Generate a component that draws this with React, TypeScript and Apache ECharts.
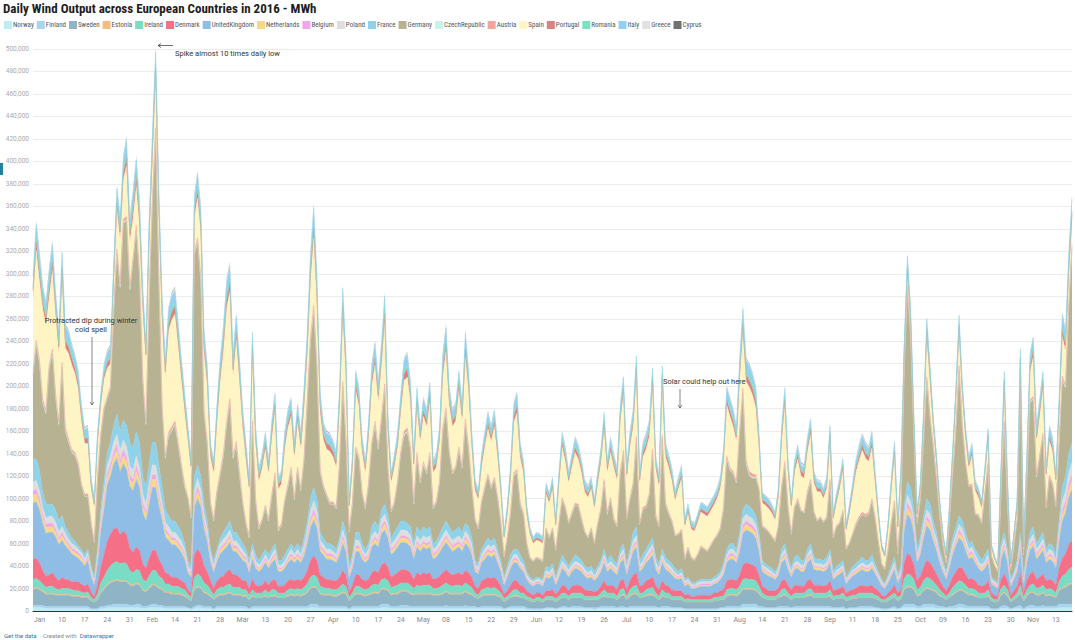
import React, { useEffect, useRef } from "react";
import * as echarts from "echarts";

// Values are in thousands of MWh, one per day starting 2016-01-01
const startDate = "2016-01-01";

const countries = ["Norway","Finland","Sweden","Estonia","Ireland","Denmark","UnitedKingdom","Netherlands","Belgium","Poland","France","Germany","CzechRepublic","Austria","Spain","Portugal","Romania","Italy","Greece","Cyprus"];

const colors = ["#bdeef4","#a8d6f2","#8fb4c6","#f6bd7c","#79dcc4","#f56f86","#8fbde6","#f9d886","#f2a6ea","#dedede","#8fd3ea","#b7b292","#cbf2e8","#f4a39d","#fff4c4","#dc8080","#7be1c1","#92d1f0","#e1e1e1","#717171"];

const norway = [3,3,3,3,2,2,2,2,2,2, 2,2,2,2,2,2,2,2,1,1, 1,2,2,3,3,3,3,3,3,3, 3,3,3,3,2,2,3,3,3,3, 3,2,2,2,2,2,2,2,2,1, 2,3,3,2,2,2,1,2,2,2, 2,2,2,2,2,2,2,1,2,2, 2,2,2,2,2,2,2,2,2,2, 2,2,2,2,2,2,3,3,3,2, 2,2,2,2,2,2,2,2,1,2, 2,2,2,2,2,2,2,2,3,3, 3,2,2,2,2,2,2,2,2,2, 2,2,2,2,2,2,2,2,2,2, 2,2,2,2,2,2,2,2,2,2, 2,2,2,2,2,2,1,2,2,2, 2,2,2,1,1,1,1,1,1,2, 2,2,1,2,2,2,2,2,2,2, 2,2,2,2,1,2,2,2,2,2, 2,2,2,2,2,2,2,2,2,2, 2,2,2,2,2,2,2,2,2,2, 2,2,1,1,1,1,1,1,1,1, 1,1,1,2,2,2,2,2,2,2, 3,3,3,3,3,2,2,2,2,2, 2,2,2,2,2,2,2,2,2,2, 2,2,2,2,2,2,2,2,2,2, 2,2,1,2,2,2,2,2,2,2, 2,2,2,1,1,1,2,2,1,2, 3,3,3,3,2,2,3,3,3,3, 2,2,2,2,2,2,2,3,3,2, 2,2,2,2,2,2,2,1,1,1, 2,2,2,1,2,2,2,1,2,2, 2,2,2,2,2,2,2,2,3,3,3,3,3];
const finland = [2,2,2,2,2,2,2,2,2,2, 2,2,2,2,2,2,2,2,1,1, 1,2,2,2,2,3,3,3,3,3, 2,2,3,3,2,2,2,3,3,2, 2,2,2,2,2,2,2,2,1,1, 2,2,2,2,2,2,1,2,2,2, 2,2,2,2,2,2,2,1,2,2, 2,2,2,2,2,2,2,2,2,2, 2,2,2,2,2,2,3,3,3,2, 2,2,2,2,2,2,2,2,1,2, 2,2,2,2,2,2,2,2,3,3, 3,2,2,2,3,3,3,2,2,2, 2,2,2,2,2,2,2,2,3,2, 2,2,2,2,3,2,2,2,1,2, 2,2,2,2,2,2,1,1,2,2, 2,2,2,2,1,1,1,1,1,1, 1,1,1,1,2,2,1,2,2,2, 2,1,1,1,2,1,2,2,2,2, 2,1,2,2,1,2,2,2,2,2, 2,2,2,2,1,2,2,2,1,1, 1,1,1,1,1,1,1,1,1,1, 1,1,1,1,1,2,2,2,2,2, 3,3,3,3,3,2,2,1,1,1, 1,2,2,2,2,1,2,2,2,2, 2,2,2,2,2,2,2,2,1,1, 1,2,1,1,1,1,2,2,2,2, 2,1,1,1,1,1,1,2,1,1, 3,3,3,3,2,2,3,3,3,3, 3,2,2,1,2,2,3,3,3,3, 2,2,2,2,2,2,2,1,1,1, 2,3,2,1,1,2,3,1,2,3, 3,2,2,3,2,2,2,2,3,3,3,3,3];
const sweden = [14,15,14,12,11,11,11,10,10,10, 10,10,9,9,9,8,8,8,7,6, 8,12,15,18,20,20,21,20,20,20, 18,17,18,17,14,13,15,17,17,15, 14,12,12,11,11,11,10,9,8,7, 15,16,15,12,11,9,8,9,10,10, 11,12,10,10,10,9,9,8,9,8, 8,8,9,8,9,9,8,8,8,9, 10,9,10,9,10,12,14,15,14,11, 10,10,10,9,9,10,12,11,7,8, 11,11,10,9,10,11,12,11,13,13, 12,10,11,11,12,12,12,11,10,11, 11,11,11,11,10,10,10,11,12,11, 11,11,11,11,12,11,10,8,8,9, 10,10,10,10,9,8,6,7,8,9, 9,8,8,7,7,6,7,7,6,7, 7,7,6,7,8,8,7,8,8,8, 8,7,7,7,7,7,8,9,8,8, 8,7,9,10,7,9,11,11,8,8, 9,10,10,8,7,9,8,8,7,7, 7,7,6,6,6,6,6,6,6,6, 6,7,7,7,7,9,10,10,9,11, 13,13,13,13,12,11,8,8,7,7, 7,8,9,10,8,7,8,8,8,8, 9,10,8,8,8,8,8,9,7,8, 8,8,7,7,8,8,8,8,8,8, 8,8,7,6,6,7,8,8,7,8, 13,15,15,13,9,10,12,14,13,12, 11,9,8,7,8,10,11,12,12,11, 10,10,9,8,8,8,9,7,6,6, 10,11,9,6,7,8,11,7,9,11, 11,10,10,11,9,10,9,8,12,14,15,17,18];
const estonia = [1,1,1,1,1,1,1,1,1,1, 1,1,1,1,1,1,1,1,0,0, 0,1,1,1,1,1,1,1,1,1, 1,1,1,1,1,1,1,1,1,1, 1,1,1,1,1,1,1,1,0,0, 1,1,1,1,1,1,0,1,1,1, 1,1,1,1,1,1,1,0,1,0, 0,0,1,0,1,1,0,0,0,1, 1,1,1,1,1,1,1,1,1,1, 1,1,1,1,1,1,1,1,0,0, 1,1,1,1,1,1,1,1,1,1, 1,1,1,1,1,1,1,1,1,1, 1,1,1,1,1,1,1,1,1,1, 1,1,1,1,1,1,1,0,0,1, 1,1,1,1,1,0,0,0,0,1, 1,0,0,0,0,0,0,0,0,0, 0,0,0,0,0,0,0,0,0,0, 0,0,0,0,0,0,0,1,0,0, 0,0,1,1,0,1,1,1,0,0, 1,1,1,0,0,1,0,0,0,0, 0,0,0,0,0,0,0,0,0,0, 0,0,0,0,0,1,1,1,1,1, 1,1,1,1,1,1,0,0,0,0, 0,0,1,1,0,0,0,0,0,0, 1,1,0,0,0,0,0,1,0,0, 0,0,0,0,0,0,0,0,0,0, 0,0,0,0,0,0,0,0,0,0, 1,1,1,1,1,1,1,1,1,1, 1,1,0,0,0,1,1,1,1,1, 1,1,1,0,0,0,1,0,0,0, 1,1,1,0,0,0,1,0,1,1, 1,1,1,1,1,1,1,0,1,1,1,1,1];
const ireland = [8,8,7,6,5,6,6,5,4,5, 5,5,5,4,4,4,3,4,3,2, 5,8,10,12,14,16,16,15,16,15, 12,11,12,12,9,8,10,12,12,10, 9,7,7,6,6,6,5,5,4,3, 10,11,10,8,7,5,4,5,6,6, 7,7,6,6,6,5,5,4,5,4, 4,4,5,4,5,5,4,4,4,5, 5,5,5,5,6,7,9,10,9,6, 6,5,5,5,5,6,7,6,3,4, 6,6,5,5,5,7,7,7,8,9, 8,6,6,7,7,7,7,7,5,7, 6,7,7,7,5,5,6,7,7,7, 6,7,7,6,7,7,6,4,3,5, 5,6,5,6,5,4,3,3,4,5, 5,4,4,3,3,2,3,3,2,3, 3,3,3,3,4,4,3,4,4,4, 4,3,3,3,3,3,4,5,4,4, 4,3,5,5,3,5,6,7,4,4, 5,5,6,4,3,5,4,4,3,3, 3,3,2,3,2,2,2,2,2,2, 2,3,3,3,3,5,5,5,5,6, 8,9,8,8,8,6,4,3,3,3, 3,3,5,5,4,3,4,4,4,4, 5,5,4,4,4,4,4,5,3,3, 3,4,3,3,3,3,4,4,4,4, 4,3,3,2,2,3,3,4,3,3, 9,11,10,8,5,6,8,9,9,7, 6,5,4,3,4,6,7,8,7,6, 5,5,5,4,4,4,5,3,2,2, 5,6,5,2,3,4,6,3,5,6, 7,5,6,6,5,5,5,4,7,10,11,13,14];
const denmark = [18,18,16,12,10,10,12,10,8,10, 8,8,7,8,8,7,6,7,5,3, 8,14,20,26,28,30,30,26,28,26, 20,18,20,18,14,12,16,18,18,15, 12,10,9,8,8,7,7,6,4,4, 20,22,20,15,12,8,6,8,9,10, 12,13,11,11,9,8,8,6,9,7, 6,7,8,7,8,9,6,6,7,8, 8,8,8,8,9,12,15,17,15,10, 9,8,8,8,8,9,12,10,5,7, 10,10,8,8,8,11,12,11,13,14, 12,9,10,11,12,12,11,11,8,11, 10,11,10,11,8,9,10,11,12,11, 10,10,11,10,11,11,9,6,6,8, 8,9,9,9,8,6,4,5,7,8, 8,7,6,5,4,4,4,4,4,5, 5,6,4,5,7,6,5,6,7,7, 6,6,5,5,4,5,6,8,6,7, 6,6,8,8,6,8,10,11,6,7, 8,8,9,7,6,8,7,6,6,5, 5,5,4,4,3,3,4,4,4,4, 4,4,4,5,6,8,8,8,8,10, 13,14,14,13,12,10,6,6,5,5, 5,5,8,8,7,6,7,7,6,6, 8,8,7,7,7,6,7,8,5,5, 6,6,4,5,5,6,6,7,6,6, 7,6,5,4,3,4,5,7,4,5, 14,18,17,13,8,10,12,15,14,12, 10,8,6,5,7,9,11,12,12,10, 8,9,8,7,6,7,8,4,4,3, 8,10,8,4,5,6,10,4,8,10, 11,8,9,10,8,8,8,7,12,16,18,22,24];
const unitedKingdom = [50,50,47,42,38,38,36,36,32,33, 30,27,25,23,21,20,18,21,14,10, 20,32,40,50,52,58,62,56,60,58, 55,55,60,56,46,42,48,56,56,48, 40,32,30,29,29,27,25,21,15,14, 42,45,42,33,27,17,14,17,21,23, 22,24,21,21,19,18,16,14,18,15, 13,15,16,15,16,18,13,13,15,16, 18,16,18,16,19,24,29,32,29,21, 20,18,18,18,16,20,24,21,12,15, 21,21,18,16,18,23,24,23,28,29, 26,20,21,23,24,24,24,23,18,23, 21,23,22,23,18,19,21,23,24,23, 21,22,23,21,24,23,20,13,13,16, 18,20,19,20,16,13,8,12,15,16, 16,15,13,10,8,8,8,8,8,12, 11,13,8,12,15,13,12,13,15,14, 13,12,11,12,10,12,13,16,13,15, 13,13,16,18,13,16,21,23,13,15, 16,18,20,14,13,16,14,13,13,11, 10,11,8,9,7,7,7,8,8,8, 8,8,9,10,13,16,18,18,16,21, 28,29,29,28,26,21,13,13,13,12, 10,12,16,18,14,11,14,15,13,13, 16,18,14,13,13,13,14,16,10,12, 13,13,8,10,12,13,13,14,13,13, 15,13,10,8,7,9,12,14,9,12, 29,35,33,28,16,19,26,31,29,24, 21,16,13,10,15,20,23,26,24,21, 18,19,16,15,13,15,16,8,8,7, 18,21,16,8,10,13,21,8,16,21, 23,18,20,21,16,18,17,15,24,33,36,42,45];
const netherlands = [7,7,6,5,5,5,5,4,4,4, 4,3,3,3,3,3,2,2,2,1, 2,4,5,6,6,6,7,6,7,7, 6,6,7,6,5,5,6,7,7,6, 5,4,4,4,4,3,3,3,2,2, 5,6,5,4,4,2,2,2,3,3, 3,4,3,3,3,3,2,2,3,2, 2,2,2,2,2,3,2,2,2,2, 3,2,3,2,3,4,5,5,5,3, 3,3,3,3,2,3,4,3,2,2, 3,3,3,2,3,3,4,3,4,5, 4,3,3,3,4,4,4,3,3,3, 3,3,3,3,3,3,3,3,4,3, 3,3,3,3,4,3,3,2,2,2, 3,3,3,3,2,2,1,2,2,2, 2,2,2,1,1,1,1,1,1,2, 2,2,1,2,2,2,2,2,2,2, 2,2,2,2,1,2,2,2,2,2, 2,2,2,3,2,2,3,3,2,2, 2,3,3,2,2,2,2,2,2,2, 1,2,1,1,1,1,1,1,1,1, 1,1,1,1,2,2,3,3,2,3, 4,5,4,4,4,3,2,2,2,2, 1,2,2,3,2,2,2,2,2,2, 2,3,2,2,2,2,2,2,1,2, 2,2,1,1,2,2,2,2,2,2, 2,2,1,1,1,1,2,2,1,2, 5,6,5,4,2,3,4,5,5,4, 3,2,2,1,2,3,3,4,4,3, 3,3,2,2,2,2,2,1,1,1, 3,3,2,1,1,2,3,1,2,3, 3,3,3,3,2,3,3,2,4,6,6,7,8];
const belgium = [4,4,4,3,3,3,3,3,2,3, 2,2,2,2,2,2,1,2,1,1, 2,3,4,4,4,4,5,4,5,4, 4,4,5,4,4,3,4,4,4,4, 3,3,2,2,2,2,2,2,1,1, 3,4,3,3,2,2,1,2,2,2, 2,2,2,2,2,2,2,1,2,1, 1,1,2,1,2,2,1,1,1,2, 2,2,2,2,2,3,3,4,3,2, 2,2,2,2,2,2,3,2,1,1, 2,2,2,2,2,2,2,2,3,3, 3,2,2,2,2,2,2,2,2,2, 2,2,2,2,2,2,2,2,2,2, 2,2,2,2,2,2,2,1,1,2, 2,2,2,2,2,1,1,1,1,2, 2,1,1,1,1,1,1,1,1,1, 1,1,1,1,1,1,1,1,1,1, 1,1,1,1,1,1,1,2,1,1, 1,1,2,2,1,2,2,2,1,1, 2,2,2,1,1,2,1,1,1,1, 1,1,1,1,1,1,1,1,1,1, 1,1,1,1,1,2,2,2,2,2, 3,3,3,3,3,2,1,1,1,1, 1,1,2,2,1,1,1,1,1,1, 2,2,1,1,1,1,1,2,1,1, 1,1,1,1,1,1,1,1,1,1, 1,1,1,1,1,1,1,1,1,1, 3,4,3,3,2,2,3,3,3,2, 2,2,1,1,1,2,2,3,2,2, 2,2,2,1,1,1,2,1,1,1, 2,2,2,1,1,1,2,1,2,2, 2,2,2,2,2,2,2,1,2,4,4,5,5];
const poland = [8,8,7,6,6,6,6,6,5,5, 5,4,4,4,3,3,3,3,2,2, 3,5,6,7,8,9,9,9,9,9, 8,8,9,8,7,7,8,9,9,8, 7,6,6,5,5,5,5,4,3,3, 7,8,7,6,5,3,3,3,4,5, 5,5,4,4,4,4,3,3,4,3, 3,3,3,3,3,4,3,3,3,3, 4,3,4,3,4,5,7,8,7,5, 4,4,4,3,3,4,5,5,3,3, 5,5,4,3,4,5,5,5,6,6, 5,4,5,5,5,5,5,5,4,5, 5,5,5,5,4,4,5,5,5,5, 5,5,5,5,5,5,4,3,3,3, 4,4,4,4,3,3,2,3,3,3, 3,3,3,2,2,2,2,2,2,3, 2,3,2,3,3,3,3,3,3,3, 3,3,2,3,2,3,3,3,3,3, 3,3,3,4,3,3,5,5,3,3, 3,4,4,3,3,3,3,3,3,2, 2,2,2,2,2,1,2,2,2,2, 2,2,2,2,3,3,4,4,3,5, 6,6,6,6,5,5,3,3,3,2, 2,2,3,4,3,2,3,3,3,3, 3,4,3,3,3,3,3,3,2,2, 2,3,2,2,2,2,3,3,3,3, 3,2,2,2,1,2,2,3,2,2, 6,7,7,6,3,4,5,6,6,5, 5,3,3,2,3,4,5,5,5,5, 4,4,3,3,3,3,3,2,2,1, 4,5,3,2,2,3,5,2,3,5, 5,4,4,5,3,4,4,3,5,8,9,10,11];
const france = [20,19,18,13,12,11,11,11,10,10, 6,6,5,4,3,3,4,3,4,3, 5,7,10,11,12,15,18,17,18,19, 21,20,22,22,16,15,17,20,20,18, 14,11,10,10,10,9,8,5,5,4, 13,12,12,9,7,4,5,4,5,6, 8,8,8,8,7,6,5,5,5,6, 4,6,5,6,5,5,4,4,6,5, 5,5,5,5,7,8,11,12,11,7, 6,5,5,5,5,6,8,7,5,6, 7,7,5,5,5,8,9,8,8,9, 8,6,7,8,8,8,7,8,5,8, 7,8,7,8,5,5,6,8,8,8, 7,7,8,7,7,8,6,4,3,5, 5,6,5,6,5,4,3,4,6,5, 5,6,4,3,2,2,2,2,2,4, 4,4,3,4,6,4,4,4,6,5, 4,3,4,4,4,4,4,5,4,6, 4,4,5,5,4,5,7,8,4,6, 5,5,6,5,4,5,5,4,4,4, 3,4,2,2,2,2,2,2,2,2, 2,2,3,3,4,5,5,5,5,7, 8,9,9,8,8,7,4,3,3,3, 3,3,5,5,5,3,5,6,4,4, 5,5,5,4,4,4,5,5,3,4, 4,4,2,3,4,4,4,5,4,4, 6,4,3,2,2,3,4,5,3,4, 9,12,13,8,5,6,8,10,9,7, 6,5,4,3,6,6,7,8,7,6, 5,5,5,6,4,6,5,2,2,2, 5,6,5,2,3,4,6,2,5,6, 7,5,6,6,5,5,5,6,8,12,14,17,18];
const germany = [75,102,95,80,80,120,134,100,85,132, 85,80,76,76,72,57,52,47,38,31, 63,66,64,49,48,100,143,127,175,182, 135,165,179,148,85,55,145,212,276,163, 70,45,70,80,85,72,58,50,55,43, 196,198,173,80,68,40,35,50,55,67, 90,105,65,77,55,35,22,20,105,47, 28,30,37,30,47,60,26,31,47,55, 65,44,65,52,68,105,140,157,115,53, 45,42,35,37,36,65,120,80,30,45, 73,65,44,36,52,73,85,68,80,103, 42,23,26,39,60,76,81,68,35,63, 44,55,50,63,31,34,46,85,97,65, 52,55,68,57,89,68,44,36,31,41, 49,55,47,52,45,33,18,25,36,65, 68,44,41,25,17,16,17,16,16,33, 27,31,24,38,49,46,38,41,44,45, 36,30,27,33,25,37,45,60,41,49, 36,33,67,80,40,44,42,77,32,40, 37,43,76,36,33,98,47,41,38,29, 33,34,18,26,21,20,23,29,27,25, 30,33,35,38,48,80,65,62,59,88, 104,35,27,28,33,38,30,31,30,28, 27,35,54,70,44,30,44,48,44,42, 50,55,40,34,37,34,35,60,30,35, 36,43,25,25,28,34,37,38,39,41, 48,40,26,14,12,22,38,48,19,52, 120,171,134,65,23,34,66,105,77,66, 48,29,14,8,29,56,85,130,84,62, 51,49,31,35,33,54,75,19,13,10, 43,97,39,9,23,36,127,20,58,115, 113,59,72,85,37,59,54,43,67,95,78,130,172];
const czechRepublic = [1,1,1,1,1,1,1,1,1,1, 1,1,1,1,1,0,0,0,0,0, 0,0,0,0,0,1,1,1,1,1, 1,1,1,1,1,1,1,1,1,1, 1,1,1,1,1,1,1,1,0,0, 1,1,1,1,1,0,0,1,1,1, 1,1,1,1,1,1,0,0,1,0, 0,0,0,0,0,1,0,0,0,1, 1,0,1,0,1,1,1,1,1,1, 0,0,0,0,0,1,1,1,0,0, 1,1,0,0,0,1,1,1,1,1, 0,0,0,0,1,1,1,1,0,1, 0,1,0,1,0,0,0,1,1,1, 0,0,1,0,1,1,0,0,0,0, 0,0,0,0,0,0,0,0,0,1, 1,0,0,0,0,0,0,0,0,0, 0,0,0,0,0,0,0,0,0,0, 0,0,0,0,0,0,0,0,0,0, 0,0,0,1,0,0,0,1,0,0, 0,0,1,0,0,1,0,0,0,0, 0,0,0,0,0,0,0,0,0,0, 0,0,0,0,0,1,1,0,0,1, 1,1,1,1,1,0,0,0,0,0, 0,0,0,1,0,0,0,0,0,0, 0,0,0,0,0,0,0,0,0,0, 0,0,0,0,0,0,0,0,0,0, 0,0,0,0,0,0,0,0,0,0, 0,1,0,0,0,0,0,1,0,0, 0,0,0,0,0,0,0,1,0,0, 0,0,0,0,0,0,0,0,0,0, 0,0,0,0,0,0,0,0,0,1, 1,0,0,1,0,0,0,0,0,1,1,1,1];
const austria = [3,3,3,3,3,3,3,3,3,3, 3,3,2,2,2,2,2,2,1,1, 1,2,2,2,2,2,3,3,3,3, 3,3,3,3,3,2,3,3,3,3, 3,2,3,3,3,3,2,2,2,2, 3,3,3,3,2,2,2,2,3,3, 3,3,3,3,3,2,2,2,3,2, 2,2,2,2,2,2,2,2,2,2, 2,2,2,2,2,3,3,4,3,2, 2,2,2,2,2,2,3,3,1,2, 2,2,2,2,2,2,3,2,3,3, 2,1,2,2,2,3,3,2,2,2, 2,2,2,2,2,2,2,3,3,2, 2,2,2,2,3,2,2,1,1,2, 2,2,2,2,2,1,1,1,2,2, 2,2,2,1,1,1,1,1,1,1, 1,1,1,1,2,2,1,2,2,2, 2,1,1,1,1,1,2,2,2,2, 2,1,2,2,1,2,2,2,1,2, 2,2,2,2,1,2,2,2,1,1, 1,1,1,1,1,1,1,1,1,1, 1,1,1,1,2,2,2,2,2,2, 3,3,3,3,2,2,1,1,1,1, 1,1,2,2,1,1,1,2,1,1, 2,2,1,1,1,1,1,2,1,1, 1,2,1,1,1,2,2,2,2,2, 2,1,1,1,1,1,1,2,1,1, 2,2,2,1,1,1,2,2,2,2, 1,1,1,1,1,1,2,2,2,1, 1,2,1,1,1,1,2,1,0,0, 1,2,1,0,1,1,2,1,1,2, 2,2,2,2,1,2,2,1,2,3,2,3,3];
const spain = [65,80,70,80,75,60,70,70,60,75, 70,75,75,70,65,55,45,45,30,30, 30,25,25,25,20,25,35,40,35,45, 40,35,35,40,60,55,50,35,45,55, 75,70,90,95,95,85,75,65,50,40, 30,35,40,50,50,40,40,60,80,90, 100,95,70,90,80,65,55,40,60,50, 40,45,50,40,50,55,35,35,45,50, 45,35,40,35,45,40,50,60,55,50, 40,40,45,40,35,50,60,55,20,30, 50,45,35,30,40,50,50,40,45,55, 30,25,30,30,35,45,45,40,30,40, 35,40,40,45,30,30,35,45,50,40, 40,40,50,40,55,50,35,25,25,30, 35,40,40,45,35,25,15,20,30,45, 50,40,35,25,20,15,15,15,15,30, 30,35,20,35,45,40,35,40,45,40, 40,35,35,35,30,35,40,45,35,40, 45,40,45,50,35,45,50,55,35,45, 50,50,55,40,35,45,40,40,35,30, 40,45,28,30,25,25,28,30,30,30, 30,30,32,35,40,45,45,40,35,45, 50,70,75,70,60,35,20,20,20,20, 18,25,40,50,30,22,30,35,30,30, 35,40,25,25,22,20,25,35,15,20, 30,35,15,25,35,45,50,55,50,45, 45,30,20,12,10,18,30,40,20,25, 10,10,8,8,5,8,15,35,30,15, 12,8,5,4,8,12,25,30,25,20, 15,25,20,15,12,15,20,6,5,4, 15,30,15,4,6,10,20,5,15,25, 35,30,35,40,25,30,28,20,25,35,30,25,20];
const portugal = [6,8,8,6,6,8,8,6,6,8, 6,6,6,5,5,5,4,5,3,3, 3,4,4,5,5,5,6,6,6,8, 6,8,8,8,6,5,6,8,8,8, 6,5,6,7,7,6,6,5,4,4, 6,7,7,6,6,4,4,5,6,7, 8,8,6,7,6,5,5,4,6,5, 4,4,5,4,5,5,4,4,5,5, 5,5,5,5,6,6,8,9,8,6, 5,5,5,5,4,5,8,6,3,4, 6,5,4,4,5,6,6,6,6,8, 5,3,4,4,5,6,7,6,4,6, 4,5,5,6,4,4,4,6,7,5, 5,5,6,5,7,6,4,3,3,4, 4,5,4,5,4,3,2,3,4,5, 6,4,4,3,2,2,2,2,2,3, 3,3,2,3,4,4,3,4,4,4, 4,3,3,3,3,4,4,5,4,4, 4,4,5,5,4,4,5,6,4,4, 4,5,6,4,3,6,4,4,4,3, 3,4,2,3,2,2,3,3,3,3, 3,3,3,3,4,5,5,5,4,6, 7,6,6,6,6,5,3,3,3,3, 2,3,4,5,4,3,4,4,4,4, 4,5,3,3,3,3,3,5,2,3, 3,4,2,3,3,4,4,5,4,4, 5,4,3,2,1,2,3,4,3,4, 4,6,5,3,2,2,4,6,5,4, 3,2,2,1,2,3,4,5,4,4, 3,4,3,3,3,3,4,1,1,1, 3,5,3,1,2,3,5,1,3,5, 6,4,5,5,4,4,4,3,5,6,6,6,7];
const romania = [3,3,3,3,3,3,3,3,3,3, 3,3,3,2,2,2,2,2,2,1, 2,2,2,2,2,2,3,3,3,3, 3,3,3,3,3,2,3,3,3,3, 3,2,3,3,3,3,3,2,2,2, 3,3,3,3,3,2,2,2,3,3, 3,3,3,3,3,2,2,2,3,2, 2,2,2,2,2,2,2,2,2,2, 2,2,2,2,3,3,3,4,3,3, 2,2,2,2,2,2,3,3,1,2, 3,2,2,2,2,3,3,3,3,3, 2,2,2,2,2,3,3,3,2,3, 2,2,2,3,2,2,2,3,3,2, 2,2,3,2,3,3,2,2,1,2, 2,2,2,2,2,2,1,1,2,2, 3,2,2,1,1,1,1,1,1,2, 1,2,1,2,2,2,2,2,2,2, 2,2,2,2,1,2,2,2,2,2, 2,2,2,2,2,2,2,3,2,2, 2,2,3,2,2,3,2,2,2,1, 2,2,1,1,1,1,1,1,1,1, 1,1,1,2,2,2,2,2,2,3, 3,3,3,3,3,2,1,1,1,1, 1,1,2,2,2,1,2,2,2,2, 2,2,2,2,1,1,2,2,1,1, 2,2,1,1,2,2,2,2,2,2, 2,2,1,1,1,1,2,2,1,2, 2,3,2,2,1,1,2,3,2,2, 1,1,1,1,1,2,2,2,2,2, 2,2,1,1,1,1,2,1,1,0, 2,2,1,1,1,1,2,1,2,2, 3,2,2,2,2,2,2,2,2,3,3,3,3];
const italy = [10,12,12,10,10,12,12,10,10,12, 10,10,8,8,8,7,6,7,4,4, 4,4,6,7,7,8,10,10,10,12, 10,12,12,12,10,8,10,12,12,12, 10,8,10,11,11,10,8,8,6,4, 10,11,11,10,8,5,5,8,10,11, 12,12,10,11,10,8,7,5,10,7, 5,5,7,5,7,8,4,4,7,8, 8,7,8,7,8,10,12,14,12,8, 7,7,7,6,6,8,12,10,4,5, 8,8,6,4,7,8,10,8,10,12, 7,4,4,6,8,9,10,8,5,8, 6,8,7,8,4,4,6,10,11,8, 7,7,8,7,11,8,6,4,4,4, 6,7,6,7,5,4,2,4,4,8, 8,6,4,4,3,2,3,3,2,4, 4,4,3,4,6,5,4,4,6,5, 4,4,4,4,4,4,5,7,4,6, 4,4,7,8,4,6,7,8,4,5, 6,6,8,4,4,8,5,4,4,4, 4,4,3,4,3,3,3,4,4,4, 4,4,4,4,5,8,8,7,6,8, 11,10,10,9,8,6,4,4,4,3, 3,4,6,8,4,4,4,5,4,4, 5,6,4,4,4,4,4,6,3,4, 4,4,3,4,4,4,6,6,6,5, 7,4,3,1,1,3,4,6,3,4, 5,8,7,4,2,3,4,8,7,4, 4,3,1,1,3,4,5,8,6,4, 4,4,4,4,3,4,4,1,1,1, 4,7,4,1,1,3,7,1,4,8, 8,6,7,8,4,6,5,4,7,10,8,10,11];
const greece = [2,3,3,2,2,3,3,2,2,3, 2,2,2,2,2,2,2,2,2,1, 2,2,2,2,2,2,2,2,2,3, 2,3,3,3,2,2,2,3,3,3, 2,2,2,3,3,2,2,2,2,2, 2,3,3,2,2,2,2,2,2,3, 3,3,2,3,2,2,2,2,2,2, 2,2,2,2,2,2,2,2,2,2, 2,2,2,2,2,2,3,3,3,2, 2,2,2,2,2,2,3,2,1,2, 2,2,2,2,2,2,2,2,2,3, 2,2,2,2,2,2,2,2,2,2, 2,2,2,2,2,2,2,2,3,2, 2,2,2,2,3,2,2,2,1,2, 2,2,2,2,2,2,1,1,2,2, 2,2,2,1,1,1,1,1,1,2, 1,2,1,2,2,2,2,2,2,2, 2,2,2,2,1,2,2,2,2,2, 2,2,2,2,2,2,2,2,2,2, 2,2,2,2,2,2,2,2,2,2, 2,2,1,1,1,1,1,1,1,1, 1,1,2,2,2,2,2,2,2,2, 3,2,2,2,2,2,1,1,1,1, 1,1,2,2,2,1,2,2,2,2, 2,2,2,2,2,2,2,2,1,1, 2,2,1,1,2,2,2,2,2,2, 2,2,1,1,1,1,2,2,1,2, 2,2,2,2,1,1,2,2,2,2, 1,1,1,1,1,2,2,2,2,2, 2,2,2,1,1,2,2,1,1,1, 2,2,2,1,1,1,2,1,2,2, 2,2,2,2,2,2,2,2,2,2,2,2,3];
const cyprus = [.5,.5,.5,.5,.5,.5,.5,.5,.5,.5, .5,.5,.4,.4,.4,.4,.4,.4,.3,.3, .3,.3,.4,.4,.4,.4,.5,.5,.5,.5, .5,.5,.5,.5,.5,.4,.5,.5,.5,.5, .5,.4,.5,.5,.5,.5,.4,.4,.4,.3, .5,.5,.5,.5,.4,.4,.4,.4,.5,.5, .5,.5,.5,.5,.5,.4,.4,.4,.5,.4, .4,.4,.4,.4,.4,.4,.3,.3,.4,.4, .4,.4,.4,.4,.4,.5,.5,.5,.5,.4, .4,.4,.4,.4,.4,.4,.5,.5,.3,.4, .4,.4,.4,.3,.4,.4,.5,.4,.5,.5, .4,.3,.3,.4,.4,.4,.5,.4,.4,.4, .4,.4,.4,.4,.3,.3,.4,.5,.5,.4, .4,.4,.4,.4,.5,.4,.4,.3,.3,.3, .4,.4,.4,.4,.4,.3,.2,.3,.3,.4, .4,.4,.3,.3,.2,.2,.2,.2,.2,.3, .3,.3,.2,.3,.4,.4,.3,.3,.4,.4, .3,.3,.3,.3,.3,.3,.4,.4,.3,.4, .3,.3,.4,.4,.3,.4,.4,.4,.3,.4, .4,.4,.4,.3,.3,.4,.4,.3,.3,.3, .3,.3,.2,.3,.2,.2,.2,.3,.3,.3, .3,.3,.3,.3,.4,.4,.4,.4,.4,.4, .5,.5,.5,.4,.4,.4,.3,.3,.3,.2, .2,.3,.4,.4,.3,.3,.3,.4,.3,.3, .4,.4,.3,.3,.3,.3,.3,.4,.2,.3, .3,.3,.2,.3,.3,.3,.4,.4,.4,.4, .4,.3,.2,.2,.2,.2,.3,.4,.2,.3, .4,.4,.4,.3,.2,.2,.3,.4,.4,.3, .3,.2,.2,.2,.2,.3,.4,.4,.4,.3, .3,.3,.3,.3,.2,.3,.3,.2,.2,.2, .3,.4,.3,.2,.2,.2,.4,.2,.3,.4, .4,.4,.4,.4,.3,.4,.4,.3,.4,.5,.4,.5,.5];

// Weekly (Sunday) tick labels, starting Sunday 3 January 2016
const xTickLabels = ["Jan","10","17","24","31","Feb","14","21","28","Mar","13","20","27","Apr","10","17","24","May","08","15","22","29","Jun","12","19","26","Jul","10","17","24","31","Aug","14","21","28","Sep","11","18","25","Oct","09","16","23","30","Nov","13"];
const firstTickIndex = 2;

const seriesValues = [norway, finland, sweden, estonia, ireland, denmark, unitedKingdom, netherlands, belgium, poland, france, germany, czechRepublic, austria, spain, portugal, romania, italy, greece, cyprus];

const FONT = "Roboto, 'Noto Sans', sans-serif";
const NARROW = "'Roboto Condensed', 'DejaVu Sans Condensed', 'Liberation Sans Narrow', Roboto, sans-serif";

export default function App() {
  const ref = useRef<HTMLDivElement>(null);
  useEffect(() => {
    if (!ref.current) return;
    const chart = echarts.init(ref.current, null, { renderer: "svg" });
    const n = germany.length;
    const t0 = Date.parse(startDate + "T00:00:00Z");
    const days = Array.from({ length: n }, (_, i) => new Date(t0 + i * 86400000).toISOString().slice(0, 10));
    const topIdx = countries.length - 2;

    const option: any = {
      animation: false,
      backgroundColor: "#ffffff",
      textStyle: { fontFamily: FONT },
      title: {
        text: "Daily Wind Output across European Countries in 2016 - MWh",
        left: 3,
        top: 2,
        padding: 0,
        textStyle: { fontFamily: NARROW, fontSize: 13, fontWeight: "bold", color: "#1d1d1d" },
      },
      legend: {
        left: 4,
        top: 21,
        padding: 0,
        itemWidth: 8,
        itemHeight: 8,
        itemGap: 3,
        icon: "rect",
        selectedMode: false,
        textStyle: { fontSize: 7, color: "#555", fontFamily: NARROW, padding: [0, 0, 0, -4] },
        data: countries,
      },
      grid: { left: 33, right: 3, top: 49, bottom: 29, containLabel: false },
      xAxis: {
        type: "category",
        boundaryGap: false,
        data: days,
        axisLine: { lineStyle: { color: "#333", width: 1 } },
        axisTick: { show: false },
        splitLine: { show: false },
        axisLabel: {
          interval: (index: number) => index >= firstTickIndex && (index - firstTickIndex) % 7 === 0,
          formatter: (_v: string, index: number) => xTickLabels[(index - firstTickIndex) / 7] ?? "",
          fontSize: 7,
          color: "#888",
          margin: 5,
          fontFamily: FONT,
        },
      },
      yAxis: {
        type: "value",
        min: 0,
        max: 500000,
        interval: 20000,
        axisLine: { show: false },
        axisTick: { show: false },
        splitLine: { lineStyle: { color: "#ececec", width: 1 } },
        axisLabel: {
          fontSize: 6.5,
          color: "#aaa",
          margin: 4,
          fontFamily: FONT,
          formatter: (v: number) => v.toLocaleString("en-US"),
        },
      },
      series: countries.map((name, i) => ({
        name,
        type: "line",
        stack: "total",
        data: seriesValues[i].map((v) => v * 1000),
        showSymbol: false,
        symbol: "none",
        clip: false,
        silent: true,
        z: 2,
        itemStyle: { color: colors[i] },
        lineStyle: { width: i >= topIdx ? 0 : 0.5, color: colors[i] },
        areaStyle: { color: colors[i], opacity: 1 },
        emphasis: { disabled: true },
      })),
      graphic: {
        elements: [
          { type: "rect", z: 100, shape: { x: 0, y: 163, width: 3, height: 12 }, style: { fill: "#1d81a2" } },
          { type: "line", z: 100, shape: { x1: 158, y1: 45.5, x2: 173, y2: 45.5 }, style: { stroke: "#333", lineWidth: 0.7 } },
          { type: "polyline", z: 100, shape: { points: [[161, 43.5], [158, 45.5], [161, 47.5]] }, style: { stroke: "#333", lineWidth: 0.7, fill: "none" } },
          { type: "text", z: 100, x: 175, y: 53, style: { text: "Spike almost 10 times daily low", fontSize: 7.5, fill: "#333", fontFamily: FONT, textVerticalAlign: "middle" } },
          { type: "text", z: 100, x: 91, y: 320.5, style: { text: "Protracted dip during winter", fontSize: 7.5, fill: "#333", fontFamily: FONT, textAlign: "center", textVerticalAlign: "middle" } },
          { type: "text", z: 100, x: 91, y: 329, style: { text: "cold spell", fontSize: 7.5, fill: "#333", fontFamily: FONT, textAlign: "center", textVerticalAlign: "middle" } },
          { type: "line", z: 100, shape: { x1: 92, y1: 337, x2: 92, y2: 405 }, style: { stroke: "#555", lineWidth: 0.7 } },
          { type: "polyline", z: 100, shape: { points: [[90, 402], [92, 405], [94, 402]] }, style: { stroke: "#555", lineWidth: 0.7, fill: "none" } },
          { type: "text", z: 100, x: 663, y: 381, style: { text: "Solar could help out here", fontSize: 7.5, fill: "#333", fontFamily: FONT, textVerticalAlign: "middle" } },
          { type: "line", z: 100, shape: { x1: 680, y1: 389, x2: 680, y2: 408 }, style: { stroke: "#555", lineWidth: 0.7 } },
          { type: "polyline", z: 100, shape: { points: [[678, 405], [680, 408], [682, 405]] }, style: { stroke: "#555", lineWidth: 0.7, fill: "none" } },
          {
            type: "text",
            z: 100,
            x: 4,
            y: 635,
            style: {
              text: "{a|Get the data} {b|· Created with} {a|Datawrapper}",
              textVerticalAlign: "middle",
              rich: {
                a: { fontSize: 6, fill: "#1d81a2", fontFamily: FONT },
                b: { fontSize: 6, fill: "#888", fontFamily: FONT },
              },
            },
          },
        ],
      },
    };
    chart.setOption(option);
    return () => chart.dispose();
  }, []);
  return <div ref={ref} style={{ position: "fixed", left: 0, top: 0, width: 1075, height: 640, background: "#fff" }} />;
}
